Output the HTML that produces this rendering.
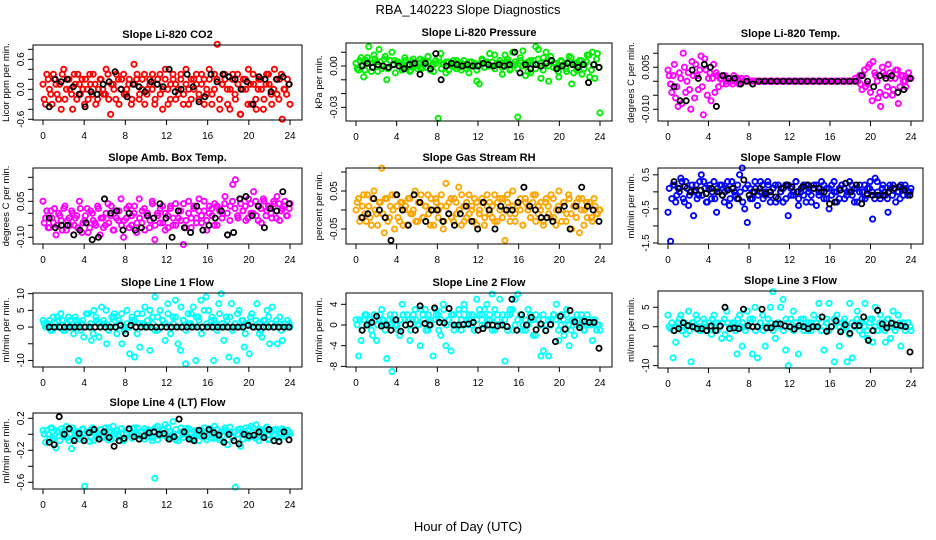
<!DOCTYPE html>
<html><head><meta charset="utf-8">
<style>
html,body{margin:0;padding:0;background:#fff;}
svg{display:block;font-family:"Liberation Sans",Arial,sans-serif;}
</style></head>
<body>
<svg id="chart" width="936" height="540" viewBox="0 0 936 540">
<text x="468" y="14" text-anchor="middle" font-size="13">RBA_140223  Slope Diagnostics</text>
<text x="468" y="531" text-anchor="middle" font-size="13">Hour of Day (UTC)</text>
</svg>
<script>
const xTicks = [0,4,8,12,16,20,24];

const co2Vals = [0.1,-0.3,0.2,-0.1,0.3,0.1,-0.2,-0.4,0.4,0.0,0.2,-0.1,0.3,-0.2,0.1,0.2,-0.3,0.0,0.3,-0.1,0.1,-0.2,0.2,0.0,-0.1,0.3,-0.5,0.1,-0.2,0.2,0.0,0.3,-0.1,0.1,-0.3,0.5,0.2,-0.2,0.0,0.3,-0.1,0.2,0.0,-0.3,0.1,0.3,-0.4,0.2,0.0,-0.2,0.3,0.1,-0.1,0.2,-0.3,0.4,0.0,-0.2,0.2,0.1,-0.1,0.3,-0.3,0.0,0.2,-0.1,0.3,0.9,-0.4,0.1,0.2,-0.3,0.0,0.3,-0.2,0.1,-0.5,0.2,0.0,0.4,-0.3,0.1,-0.4,0.2,0.0,-0.2,0.3,0.1,-0.3,0.4,-0.1,0.2,-0.6,0.0,0.2,-0.3];
const co2Vals2 = [-0.2,0.3,0.0,-0.3,0.2,-0.1,0.1,0.3,-0.2,0.2,0.0,-0.4,0.1,0.3,-0.1,0.0,0.2,-0.2,0.1,0.3,-0.3,0.0,0.2,-0.1,0.4,-0.2,0.1,0.0,0.3,-0.3,0.2,-0.1,0.0,0.2,-0.2,0.1,0.3,-0.1,0.2,-0.3,0.0,0.1,0.3,-0.2,0.2,-0.1,0.0,0.4,-0.3,0.1,0.2,-0.2,0.0,0.3,-0.1,0.1,-0.3,0.2,0.0,0.3,-0.2,0.1,0.2,-0.1,0.4,-0.3,0.0,0.2,-0.2,0.1,0.3,0.0,-0.4,0.2,-0.1,0.3,-0.5,0.0,0.2,-0.3,0.1,0.3,-0.2,0.0,0.2,-0.4,0.1,0.3,-0.1,0.0,0.2,-0.2,0.3,0.0,-0.1,0.1];
const co2Ref = [-0.35,0.2,0.15,0.2,0.05,-0.1,-0.35,-0.05,-0.1,0.1,0.15,0.35,0.0,-0.15,0.1,0.05,-0.05,0.15,0.1,0.05,0.4,-0.05,0.0,0.3,0.05,-0.25,-0.15,0.3,0.15,0.3,0.25,0.2,0.0,0.15,-0.3,0.25,0.2,-0.05,0.2,0.25,0.1];

const presVals = [0.002,-0.003,0.006,-0.008,0.004,0.014,-0.004,0.008,0.003,0.012,-0.002,0.005,-0.010,-0.001,0.010,0.004,0.003,0.002,-0.003,0.006,0.001,-0.004,0.003,0.000,-0.002,0.005,-0.001,0.003,0.007,-0.003,0.001,0.004,-0.038,0.009,0.002,-0.005,0.003,0.001,0.004,-0.002,0.002,-0.003,0.004,0.000,-0.005,0.003,0.001,-0.011,-0.013,0.005,-0.001,0.003,0.009,0.000,0.008,0.002,0.002,-0.006,0.008,0.003,-0.002,0.010,0.001,-0.037,0.004,0.011,-0.007,0.003,-0.005,0.004,0.014,0.012,-0.009,0.006,0.010,-0.011,0.004,0.002,-0.002,-0.008,0.003,0.001,-0.004,0.007,-0.013,0.002,-0.003,0.004,-0.006,0.001,0.008,-0.008,0.010,-0.009,0.009,-0.034];
const presVals2 = [-0.002,0.004,0.001,-0.003,0.006,0.002,-0.001,0.005,-0.004,0.003,0.000,0.007,-0.002,0.004,0.001,-0.005,0.003,0.002,-0.001,0.004,0.000,-0.003,0.005,0.001,0.002,-0.002,0.004,-0.001,0.003,0.000,-0.004,0.002,0.006,-0.002,0.001,0.003,-0.003,0.002,0.000,0.004,-0.001,0.002,0.001,-0.002,0.003,0.000,0.002,-0.003,0.001,0.004,-0.001,0.002,0.000,0.003,-0.002,0.001,0.004,-0.001,0.002,0.005,-0.003,0.001,0.003,-0.002,0.006,0.000,0.002,-0.004,0.004,0.001,-0.002,0.005,0.002,-0.003,0.003,0.000,0.007,-0.001,0.002,-0.004,0.004,0.001,-0.002,0.003,0.006,-0.005,0.002,0.000,0.004,-0.002,0.003,0.008,-0.003,0.001,0.005,-0.001];
const presRef = [0.000,0.002,-0.001,0.001,0.000,-0.001,0.001,0.000,-0.002,0.001,0.002,-0.006,0.002,-0.002,0.009,-0.010,0.000,0.002,0.001,0.000,0.001,0.000,0.000,0.002,0.001,0.000,0.001,0.000,0.001,0.010,-0.005,0.001,-0.002,0.001,0.000,0.002,0.004,-0.002,0.000,0.002,0.001,-0.001,0.001,-0.012,0.001,-0.001];

const tempVals = [0.004,-0.001,0.002,-0.006,-0.009,0.001,0.010,-0.004,0.003,-0.010,0.002,0.006,-0.003,0.009,-0.012,0.004,0.001,-0.007,0.006,0.003,-0.002,0.001,0.002,-0.001,0.001,0.000,0.002,0.000,-0.001,0.001,0.000,0.001,0,0,0,0,0,0,0,0,0,0,0,0,0,0,0,0,0,0,0,0,0,0,0,0,0,0,0,0,0,0,0,0,0,0,0,0,0,0,0,0,0,0,0.001,0,-0.001,0.002,-0.002,0.005,-0.004,0.007,0.002,-0.006,-0.009,0.003,-0.005,0.006,0.001,-0.003,0.004,-0.008,0.002,0.000,-0.002,0.003,0.001];
const tempVals2 = [0.002,-0.004,0.006,-0.002,0.003,-0.008,0.005,0.000,-0.003,0.007,-0.006,0.002,0.004,-0.002,0.008,-0.005,0.003,0.001,-0.004,0.002,0.001,-0.001,0.002,0.000,0.001,-0.001,0.000,0.001,0,0,0,0,0,0,0,0,0,0,0,0,0,0,0,0,0,0,0,0,0,0,0,0,0,0,0,0,0,0,0,0,0,0,0,0,0,0,0,0,0,0,0,0,0,0,0,0.002,-0.003,0.004,-0.001,0.006,-0.007,0.003,0.000,-0.004,0.005,0.002,-0.002,0.003,-0.005,0.001,0.004,-0.002,0.002,0.000,0.001,0.001];
const tempRef = [-0.002,-0.007,-0.007,0.004,0.001,0.006,0.005,-0.009,0.002,0.001,0.001,-0.001,0.000,-0.001,0.000,0.000,0.000,0.000,0.000,0.000,0.000,0.000,0.000,0.000,0.000,0.000,0.000,0.000,0.000,0.000,0.000,0.002,0.000,-0.002,0.002,0.001,0.002,-0.004,-0.003,0.001];

const boxVals = [0.05,-0.02,-0.06,0.01,-0.04,-0.09,0.00,-0.03,0.02,-0.07,-0.02,0.01,-0.05,-0.01,0.05,-0.08,-0.03,0.02,-0.06,0.00,-0.04,0.03,-0.09,-0.02,-0.05,0.04,-0.01,-0.07,0.01,-0.03,0.06,-0.10,-0.02,0.03,-0.05,0.00,-0.08,0.06,-0.04,0.02,-0.01,-0.06,0.05,-0.11,0.00,-0.04,0.03,-0.07,-0.01,0.02,-0.05,0.04,-0.02,0.01,-0.13,-0.03,0.05,-0.06,0.02,-0.02,0.06,-0.04,0.01,-0.07,0.03,-0.01,0.04,-0.05,0.02,0.00,0.07,-0.09,0.03,0.12,0.14,-0.02,0.04,0.01,-0.03,0.06,0.00,0.09,-0.01,0.03,-0.04,0.05,0.01,0.02,-0.02,0.04,0.07,-0.03,0.02,0.05,-0.01,0.04];
const boxVals2 = [-0.04,0.01,-0.06,-0.02,0.02,-0.05,-0.01,-0.07,0.03,-0.03,-0.05,0.00,-0.02,-0.06,0.02,-0.04,-0.01,-0.08,0.01,-0.03,-0.05,0.02,-0.02,-0.06,0.00,-0.04,0.03,-0.07,-0.02,0.01,-0.05,-0.03,0.02,-0.06,-0.01,0.03,-0.04,-0.02,0.01,-0.07,0.00,-0.03,0.04,-0.05,-0.01,0.02,-0.04,0.00,-0.06,0.03,-0.02,-0.05,0.01,-0.03,0.04,-0.06,0.00,-0.02,0.03,-0.04,0.01,-0.01,0.05,-0.03,0.00,0.02,-0.05,0.03,0.01,-0.02,0.04,0.00,-0.03,0.05,0.02,-0.01,0.06,0.01,0.03,-0.02,0.04,0.00,0.05,-0.03,0.02,0.06,-0.01,0.03,0.00,0.05,-0.02,0.04,0.01,0.03,-0.01,0.02];
const boxRef = [-0.02,-0.06,-0.05,-0.05,-0.09,-0.07,-0.04,-0.11,-0.10,0.06,0.00,0.01,-0.07,0.00,-0.07,-0.06,-0.01,-0.02,0.04,-0.02,-0.10,0.01,-0.06,-0.08,0.03,-0.07,-0.05,-0.02,0.01,-0.09,-0.08,0.06,0.07,-0.01,0.03,-0.06,0.02,0.01,0.09,0.04];

const rhVals = [0.00,0.03,-0.02,0.04,-0.03,0.01,-0.04,0.05,-0.01,0.02,0.11,-0.06,0.03,-0.02,0.04,-0.05,0.01,-0.03,0.02,0.00,-0.04,0.03,-0.01,0.05,-0.03,0.02,-0.02,0.01,0.04,-0.04,0.00,0.03,-0.02,0.01,-0.05,0.07,-0.01,0.03,-0.03,0.02,0.06,-0.04,0.01,-0.02,0.04,0.00,-0.03,0.02,-0.01,0.03,-0.04,0.01,0.02,-0.02,0.04,-0.03,0.00,0.03,-0.08,0.02,-0.01,0.05,-0.03,0.01,0.03,-0.04,0.02,0.00,-0.02,0.04,-0.03,0.01,0.02,-0.04,0.03,-0.01,0.04,-0.02,0.00,0.05,-0.03,0.02,-0.01,0.03,-0.05,0.01,0.02,-0.06,0.03,0.00,-0.02,0.02,-0.03,0.01,-0.01,0.00];
const rhVals2 = [0.02,-0.03,0.01,-0.01,0.04,-0.02,0.03,0.00,-0.04,0.02,-0.01,0.03,-0.03,0.01,0.00,0.04,-0.02,0.02,-0.04,0.01,0.03,-0.01,0.00,-0.03,0.02,0.04,-0.02,0.01,-0.01,0.03,-0.04,0.02,0.00,0.04,-0.03,0.01,0.02,-0.02,0.03,-0.01,0.00,0.04,-0.03,0.02,-0.01,0.01,0.03,-0.04,0.00,0.02,-0.02,0.04,-0.01,0.01,-0.03,0.02,0.03,-0.02,0.00,0.04,-0.03,0.01,-0.01,0.02,0.00,-0.04,0.03,0.01,-0.02,0.02,0.04,-0.01,0.00,-0.03,0.02,0.01,-0.02,0.03,-0.04,0.01,0.00,0.02,-0.03,0.04,-0.01,0.01,-0.02,0.03,0.00,-0.04,0.02,0.01,-0.02,0.03,-0.01,0.00];
const rhRef = [-0.02,-0.01,0.03,0.00,-0.02,-0.08,0.04,0.00,-0.04,0.04,0.02,-0.03,0.00,0.00,-0.03,-0.01,-0.04,-0.01,0.01,-0.03,-0.05,0.02,0.00,-0.05,0.01,0.00,0.00,0.02,0.06,0.01,0.00,-0.02,-0.02,-0.03,0.00,0.01,-0.05,0.01,0.06,0.01,0.00,-0.03];

const sampleVals = [-0.6,-1.45,0.2,-0.3,0.1,0.4,-0.2,0.3,-0.4,0.0,-0.7,0.2,-0.1,0.5,0.3,-0.3,0.1,-0.2,0.3,-0.6,0.0,0.2,-0.3,0.1,-0.4,0.3,0.0,-0.2,0.5,0.7,-0.5,-0.9,0.1,-0.2,0.3,-0.4,0.0,0.2,-0.1,0.3,-0.3,0.1,0.2,-0.2,0.0,-0.3,0.2,-0.7,0.1,-0.1,0.3,-0.4,0.0,0.2,-0.3,0.1,-0.1,0.2,-0.4,0.0,0.3,-0.2,0.1,-0.5,0.2,0.0,-0.3,0.1,0.2,-0.2,0.0,0.3,-0.1,0.1,-0.3,0.2,0.0,-0.2,0.1,0.3,-0.8,0.4,0.0,-0.2,0.2,-0.1,-0.6,0.1,0.2,-0.3,0.0,0.2,-0.1,0.1,0.0,0.1];
const sampleVals2 = [0.1,-0.2,0.2,-0.1,0.0,0.3,-0.3,0.1,-0.1,0.2,0.0,-0.2,0.3,-0.1,0.1,-0.3,0.2,0.0,-0.2,0.1,0.2,-0.1,0.0,0.3,-0.2,0.1,-0.1,0.2,0.0,-0.3,0.1,0.2,-0.2,0.0,0.1,-0.1,0.3,-0.2,0.0,0.2,-0.1,0.1,-0.3,0.2,0.0,0.1,-0.2,0.2,-0.1,0.0,0.3,-0.2,0.1,-0.1,0.2,0.0,-0.3,0.1,0.2,-0.1,0.0,0.2,-0.2,0.1,-0.1,0.3,0.0,-0.2,0.2,0.1,-0.1,0.0,0.2,-0.3,0.1,0.0,-0.2,0.2,-0.1,0.1,0.0,-0.2,0.3,-0.1,0.1,0.0,-0.2,0.2,-0.1,0.1,0.0,-0.2,0.1,0.2,-0.1,0.0];
const sampleRef = [0.3,0.1,0.15,0.0,0.05,0.05,-0.05,0.1,0.0,-0.1,0.05,0.1,-0.2,0.35,-0.1,0.0,0.1,-0.05,0.0,-0.15,0.1,0.2,0.15,0.0,0.15,0.2,0.1,0.1,0.0,-0.35,-0.3,0.05,0.25,0.0,0.2,-0.35,-0.05,-0.1,-0.1,-0.1,0.0,0.1,0.15,0.05,-0.1];

const line1Vals = [2,0,1,-1,3,0,2,4,-1,1,3,0,-2,2,-10,1,-3,4,0,-4,5,2,-3,6,1,-5,0,3,4,-2,1,-5,0,5,-8,2,-9,4,-6,1,6,0,-7,3,9,-1,5,2,-4,7,0,3,8,-5,-7,2,-11,4,1,6,-10,3,8,0,9,5,2,-10,1,7,10,-4,3,-9,7,0,-10,5,2,-6,1,-8,4,0,7,-2,-3,2,5,-5,6,0,-5,3,-4,1,2,0];
const line1Vals2 = [1,0,2,-1,1,3,0,2,-1,1,2,0,3,1,-1,2,0,4,1,-2,3,1,0,2,5,-1,1,3,0,2,4,-1,1,0,3,2,-2,1,4,0,2,5,1,-1,3,0,2,1,4,-2,1,3,0,6,2,-1,1,4,0,3,2,-2,5,1,0,3,2,-1,4,1,0,2,3,-1,1,4,0,2,-2,1,3,0,2,1,-1,2,0,3,1,0,2,1,-1,1,0,1];
const line1Ref = [0,0,0,0,0,0,0,0,0,0,0,0,0,0,0.5,-2,0.5,0,0,0,0,0,0,0,0,0,0,0,0,0,0,0,0,0,0,0,0,0,0,0.5,0,0,0,0,0,0,0,0];

const line2Vals = [1,-6,-3,1,2,0,-1,2,-3,1,3,0,-6.5,1,-9,2,0,-2,4,1,2,-3,1,3,0,-4,2,3,-1,1,-6,3,2,-2,4,-4,1,-5,2,0,3,-1,4,1,2,0,-1,5,2,0,3,4,1,6,-1,2,5,0,-7,2,3,-1,5,6,2,0,-1,3,1,-2,2,1,-6,-5,0,-6,1,2,4,-3,2,-2,3,-4,1,-2,2,0,1,-1,2,0,-3,1,0,-1];
const line2Vals2 = [0,1,-1,2,0,1,-2,1,0,2,1,-1,0,2,1,0,-1,1,2,0,1,-1,2,1,0,3,1,-1,2,0,1,2,-1,1,3,0,1,2,-1,0,2,1,3,0,1,2,-1,1,3,2,0,1,2,-1,3,1,0,2,1,-1,2,3,0,1,2,-1,1,0,2,1,-2,1,0,2,-1,1,0,2,1,-1,0,1,2,0,-1,1,0,1,2,-1,0,1,0,1,-1,0];
const line2Ref = [-1,0,0.5,1.7,-0.2,0,-1,1,-1.2,0,0.2,-1,3.7,0.3,0,3.3,0.5,0.4,3.2,0,0,0.1,0.2,0.5,-1,-0.7,0,0,-0.2,0,-0.3,5,-1,2,0,1.5,-0.9,0.2,-1.1,0.1,-3.2,1.7,-0.8,2.8,0.6,-0.5,0.7,0.5,0.5,-4.5];

const line3Vals = [3,-0.5,-8,-4,1,3,0,-2,4,-9,1,3,0,-1,2,0,1,-2,3,1,0,-3,2,4,-3,0,1,-7,3,-5,0,4,2,-7,5,-8,1,3,-5,0,5,9,-3,1,5,7,-6,-10,2,4,0,-7,1,2,0,-1,1,3,0,6,-1,-6,2,6,0,-9,3,-5,1,2,-9,6,-8,0,4,1,-2,6,-3,2,-4,5,-1,3,1,-4,2,-3,4,0,3,-5,1,0,1,-1];
const line3Vals2 = [0,1,-1,0,2,-1,1,0,-1,1,0,2,-1,0,1,-1,0,2,1,-1,0,1,-2,1,0,1,-1,2,0,1,-1,0,1,2,-1,0,1,-1,0,2,1,-1,0,1,0,-1,2,1,0,-1,1,0,2,-1,0,1,-1,0,1,2,-1,0,1,-1,0,2,1,0,-1,1,0,-2,1,0,2,-1,1,0,-1,1,2,0,-1,1,0,-1,2,0,1,-1,0,1,0,-1,1,0];
const line3Ref = [-1,-0.5,1,0.3,0,-0.5,-0.5,-1,0.2,-1,0.2,5,-0.5,-0.3,-0.5,4.5,0.3,0,0,4.5,-0.3,-0.3,0.7,0.7,0.2,0,-0.6,0.3,0,-0.5,0,0,2.5,-1.2,0,1.5,-1.3,0.5,-1.7,0.3,0.3,2.5,-3.5,-1,4.2,0.7,-0.3,0.9,0.5,0.3,0,-6.5];

const line4Vals = [0.05,-0.1,0.0,0.08,-0.05,-0.17,0.03,0.07,-0.03,0.1,-0.08,-0.18,0.05,0.0,-0.06,0.06,-0.65,0.02,-0.09,0.08,0.0,-0.04,0.06,-0.02,0.08,-0.07,0.03,0.1,-0.05,0.0,0.07,-0.08,0.02,0.05,-0.04,0.08,0.0,-0.06,0.03,0.07,-0.03,0.05,-0.08,-0.55,0.1,-0.02,0.06,0.12,-0.05,0.03,0.16,-0.07,0.0,0.08,-0.04,0.02,0.07,-0.06,0.04,0.0,-0.08,0.05,0.02,-0.03,0.07,-0.05,0.1,0.0,-0.07,0.04,0.08,-0.13,0.02,-0.04,-0.66,0.06,-0.15,0.03,0.08,-0.05,0.1,-0.02,0.12,-0.08,0.04,0.0,0.09,-0.06,0.03,0.06,-0.05,0.02,0.07,-0.03,0.05,0.0];
const line4Vals2 = [0.0,0.05,-0.06,0.08,-0.02,0.04,-0.08,0.02,0.06,-0.04,0.0,0.08,-0.06,0.03,-0.02,0.07,-0.05,0.01,0.05,-0.08,0.03,-0.01,0.06,-0.04,0.0,0.08,-0.06,0.02,0.04,-0.03,0.07,-0.07,0.01,0.05,-0.05,0.0,0.08,-0.02,0.03,-0.06,0.06,0.0,-0.04,0.08,-0.07,0.02,0.05,-0.02,0.09,-0.05,0.01,0.06,-0.08,0.03,0.0,0.07,-0.04,0.02,-0.06,0.05,0.01,-0.03,0.08,-0.07,0.04,0.0,-0.05,0.06,0.02,-0.08,0.05,-0.01,0.09,-0.04,0.03,0.0,0.07,-0.06,0.02,0.05,-0.03,0.08,-0.05,0.01,0.06,-0.02,0.04,-0.07,0.03,0.0,0.06,-0.04,0.02,0.05,-0.01,0.03];
const line4Ref = [-0.1,-0.13,0.22,0.0,0.07,-0.08,0.01,-0.08,0.02,0.06,-0.06,0.03,-0.04,-0.15,-0.08,-0.05,0.07,-0.03,-0.06,-0.02,0.02,0.03,0.0,0.01,-0.06,-0.03,0.19,0.03,-0.06,-0.08,0.05,-0.02,0.06,0.02,-0.01,-0.1,0.0,-0.08,-0.12,0.0,-0.02,-0.01,0.03,-0.04,0.06,-0.08,-0.09,0.03,-0.07];

const co2Ticks = [-0.6,-0.4,-0.2,0,0.2,0.4,0.6,0.8];
const co2Labels = ["-0.6","","","0.0","","","0.6",""];
const presTicks = [-0.03,-0.02,-0.01,0,0.01];
const presLabels = ["-0.03","","","0.00",""];
const tempTicks = [-0.01,-0.005,0,0.005,0.01];
const tempLabels = ["-0.010","","","0.005",""];
const boxTicks = [-0.1,-0.05,0,0.05,0.1,0.15];
const boxLabels = ["-0.10","","","0.05","",""];
const rhTicks = [-0.05,0,0.05,0.1];
const rhLabels = ["-0.05","","0.05",""];
const sampleTicks = [-1.5,-1,-0.5,0,0.5];
const sampleLabels = ["-1.5","","-0.5","","0.5"];
const line1Ticks = [-10,-5,0,5,10];
const line1Labels = ["-10","","0","5","10"];
const line2Ticks = [-8,-4,0,4];
const line2Labels = ["-8","-4","0","4"];
const line3Ticks = [-10,-5,0,5];
const line3Labels = ["-10","","0","5"];
const line4Ticks = [-0.6,-0.4,-0.2,0,0.2];
const line4Labels = ["-0.6","","-0.2","","0.2"];

const panels = [
 {id:"co2",title:"Slope Li-820 CO2",ylab:"Licor ppm per min.",color:"#ff0000",vals:co2Vals,vals2:co2Vals2,ref:co2Ref,ticks:co2Ticks,labels:co2Labels,dom:[-0.614,0.886],box:[33,45,302,120]},
 {id:"pressure",title:"Slope Li-820 Pressure",ylab:"kPa per min.",color:"#00ee00",vals:presVals,vals2:presVals2,ref:presRef,ticks:presTicks,labels:presLabels,dom:[-0.0399,0.0167],box:[346,43,612,121]},
 {id:"temp",title:"Slope Li-820 Temp.",ylab:"degrees C per min.",color:"#ff00ff",vals:tempVals,vals2:tempVals2,ref:tempRef,ticks:tempTicks,labels:tempLabels,dom:[-0.0142,0.0133],box:[658,44,923,121]},
 {id:"amb-box-temp",title:"Slope Amb. Box Temp.",ylab:"degrees C per min.",color:"#ff00ff",vals:boxVals,vals2:boxVals2,ref:boxRef,ticks:boxTicks,labels:boxLabels,dom:[-0.128,0.189],box:[33,168,302,244]},
 {id:"gas-rh",title:"Slope Gas Stream RH",ylab:"percent per min.",color:"#ffa500",vals:rhVals,vals2:rhVals2,ref:rhRef,ticks:rhTicks,labels:rhLabels,dom:[-0.0895,0.1105],box:[346,168,612,244]},
 {id:"sample-flow",title:"Slope Sample Flow",ylab:"ml/min per min.",color:"#0000ff",vals:sampleVals,vals2:sampleVals2,ref:sampleRef,ticks:sampleTicks,labels:sampleLabels,dom:[-1.53,0.70],box:[658,168,923,244]},
 {id:"line1",title:"Slope Line 1 Flow",ylab:"ml/min per min.",color:"#00ffff",vals:line1Vals,vals2:line1Vals2,ref:line1Ref,ticks:line1Ticks,labels:line1Labels,dom:[-11.96,10.2],box:[33,293,302,367]},
 {id:"line2",title:"Slope Line 2 Flow",ylab:"ml/min per min.",color:"#00ffff",vals:line2Vals,vals2:line2Vals2,ref:line2Ref,ticks:line2Ticks,labels:line2Labels,dom:[-8.12,6.19],box:[346,293,612,367]},
 {id:"line3",title:"Slope Line 3 Flow",ylab:"ml/min per min.",color:"#00ffff",vals:line3Vals,vals2:line3Vals2,ref:line3Ref,ticks:line3Ticks,labels:line3Labels,dom:[-10.6,9.18],box:[658,291,923,368]},
 {id:"line4",title:"Slope Line 4 (LT) Flow",ylab:"ml/min per min.",color:"#00ffff",vals:line4Vals,vals2:line4Vals2,ref:line4Ref,ticks:line4Ticks,labels:line4Labels,dom:[-0.684,0.266],box:[33,413,302,489]}
];

const NS = "http://www.w3.org/2000/svg";
const svg = document.getElementById("chart");
function mk(tag, attrs, parent){
  const e = document.createElementNS(NS, tag);
  for (const k in attrs) e.setAttribute(k, attrs[k]);
  (parent||svg).appendChild(e);
  return e;
}

panels.forEach(p => {
  const [x0,y0,x1,y1] = p.box;
  const g = mk("g", {});
  
  
  const xLeft = x0 + 10, xRight = x1 - 12;
  const xs = h => xLeft + (xRight - xLeft) * h / 24;
  const ys = v => y1 - (v - p.dom[0]) / (p.dom[1] - p.dom[0]) * (y1 - y0);

  const t = mk("text", {x:(x0+x1)/2, y:y0-7, "text-anchor":"middle", "font-size":"11", "font-weight":"bold"}, g);
  t.textContent = p.title;
  
  

  const yl = mk("text", {transform:`translate(${x0-24},${(y0+y1)/2}) rotate(-90)`, "text-anchor":"middle", "font-size":"9.5"}, g);
  yl.textContent = p.ylab;
  
  

  const pts = mk("g", {fill:"none", stroke:p.color, "stroke-width":"1.9"}, g);
  
  
  const n = p.vals.length;
  p.vals.forEach((v, i) => {
    const c = mk("circle", {cx:xs(i*24/(n-1)).toFixed(1), cy:ys(v).toFixed(1), r:"2.6"}, pts);
    
    
  });
  const n2 = p.vals2.length;
  p.vals2.forEach((v, i) => {
    const c = mk("circle", {cx:xs(0.12 + i*23.8/(n2-1)).toFixed(1), cy:ys(v).toFixed(1), r:"2.6"}, pts);
    
    
  });
  const refg = mk("g", {fill:"none", stroke:"#000", "stroke-width":"1.8"}, g);
  
  
  const m = p.ref.length;
  p.ref.forEach((v, i) => {
    const c = mk("circle", {cx:xs(0.6 + i*23.3/(m-1)).toFixed(1), cy:ys(v).toFixed(1), r:"2.6"}, refg);
    
    
  });

  const box = mk("rect", {x:x0, y:y0, width:x1-x0, height:y1-y0, fill:"none", stroke:"#000", "stroke-width":"1"}, g);
  
  

  xTicks.forEach(h => {
    mk("line", {x1:xs(h), x2:xs(h), y1:y1, y2:y1+5, stroke:"#000"}, g);
    const tl = mk("text", {x:xs(h), y:y1+19, "text-anchor":"middle", "font-size":"10"}, g);
    tl.textContent = h;
    
    
  });
  p.ticks.forEach((v, i) => {
    const y = ys(v);
    if (y < y0 - 0.5 || y > y1 + 0.5) return;
    mk("line", {x1:x0-5, x2:x0, y1:y, y2:y, stroke:"#000"}, g);
    if (p.labels[i]) {
      const tl = mk("text", {transform:`translate(${x0-9},${y}) rotate(-90)`, "text-anchor":"middle", "font-size":"10"}, g);
      tl.textContent = p.labels[i];
      
      
    }
  });
});
</script>
</body></html>
